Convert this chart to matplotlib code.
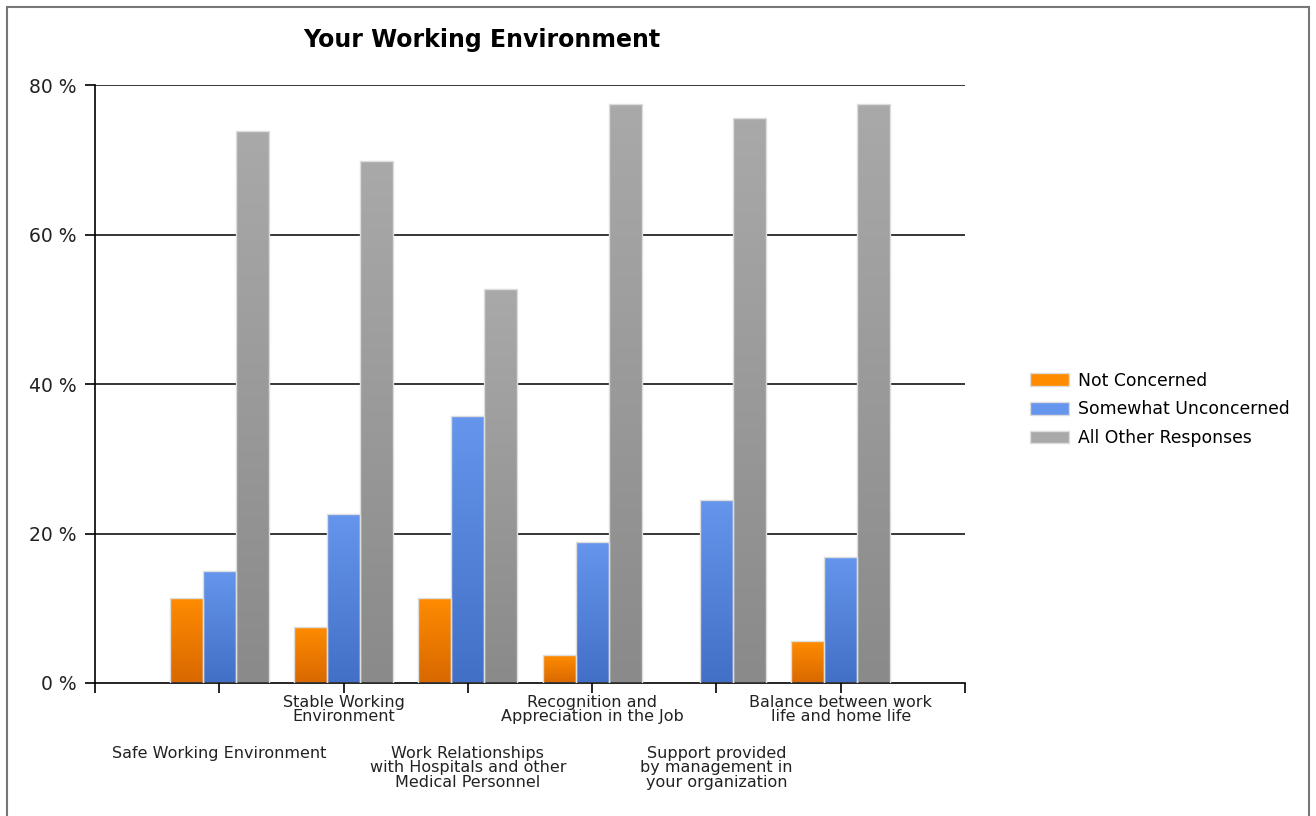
import numpy as np
import matplotlib.pyplot as plt
from matplotlib.colors import LinearSegmentedColormap
from matplotlib.patches import Rectangle
from matplotlib.transforms import blended_transform_factory

categories = [
    'Safe Working Environment',
    'Stable Working\nEnvironment',
    'Work Relationships\nwith Hospitals and other\nMedical Personnel',
    'Recognition and\nAppreciation in the Job',
    'Support provided\nby management in\nyour organization',
    'Balance between work\nlife and home life',
]
series_names = ['Not Concerned', 'Somewhat Unconcerned', 'All Other Responses']
not_concerned = [11.4, 7.5, 11.4, 3.7, 0.0, 5.6]
somewhat_unconcerned = [15.0, 22.6, 35.7, 18.9, 24.5, 16.9]
all_other = [73.8, 69.9, 52.7, 77.5, 75.6, 77.5]

# (top colour, bottom colour) of each series gradient
grads = [('#ff8c00', '#d96800'), ('#6595ec', '#4270c6'), ('#a9a9a9', '#8a8a8a')]
yticks = [0, 20, 40, 60, 80]


def gradient_bar(ax, x, h, w, top, bottom):
    cmap = LinearSegmentedColormap.from_list('g', [bottom, top])
    rect = Rectangle((x - w / 2, 0), w, h, facecolor='none',
                     edgecolor='#dddddd', linewidth=1.0, zorder=3)
    ax.add_patch(rect)
    if h <= 0:
        rect.set_visible(False)
        return
    img = ax.imshow(np.linspace(0, 1, 100).reshape(-1, 1), cmap=cmap,
                    origin='lower', aspect='auto',
                    extent=(x - w / 2, x + w / 2, 0, h), zorder=2)
    img.set_clip_path(rect)


def main():
    fig = plt.figure(figsize=(13.16, 8.16), dpi=100)
    ax = fig.add_axes([0.0722, 0.163, 0.6611, 0.7328])

    w = 0.265
    data = [not_concerned, somewhat_unconcerned, all_other]
    for s, vals in enumerate(data):
        for i, v in enumerate(vals):
            gradient_bar(ax, i + (s - 1) * w, v, w, *grads[s])

    ax.set_xlim(-1, len(categories))
    ax.set_ylim(0, 80)
    ax.set_yticks(yticks)
    ax.set_yticklabels([f'{t} %' for t in yticks], fontsize=13.5, color='#222222')
    ax.set_xticks(np.arange(-1, len(categories) + 1))
    ax.set_xticklabels([])
    ax.tick_params(axis='both', length=7, width=1.2, color='black')
    ax.tick_params(axis='y', pad=6)
    for t in yticks[1:]:
        ax.axhline(t, color='black', linewidth=1.1, zorder=1)
    for side in ['top', 'right']:
        ax.spines[side].set_visible(False)
    for side in ['left', 'bottom']:
        ax.spines[side].set_linewidth(1.2)

    trans = blended_transform_factory(ax.transData, ax.transAxes)
    for i, lab in enumerate(categories):
        y = -0.02 if i % 2 == 1 else -0.105
        ax.text(i, y, lab, transform=trans, ha='center', va='top',
                fontsize=11.5, color='#222222', linespacing=0.95)

    fig.text(482 / 1316, 1 - 40 / 816, 'Your Working Environment', ha='center',
             va='center', fontsize=17, fontweight='bold')

    handles = [Rectangle((0, 0), 1, 1, facecolor=g[0], edgecolor='#dddddd') for g in grads]
    fig.legend(handles, series_names, loc='center left', bbox_to_anchor=(0.776, 0.4985),
               frameon=False, fontsize=12.4, handlelength=2.3, handleheight=0.75,
               handletextpad=0.5, labelspacing=0.62, borderpad=0)

    border = Rectangle((0.0055, -0.01), 0.9895, 1.002, transform=fig.transFigure,
                       fill=False, edgecolor='#777777', linewidth=1.5)
    fig.patches.append(border)

    fig.savefig('out.png', dpi=100)


if __name__ == '__main__':
    main()
